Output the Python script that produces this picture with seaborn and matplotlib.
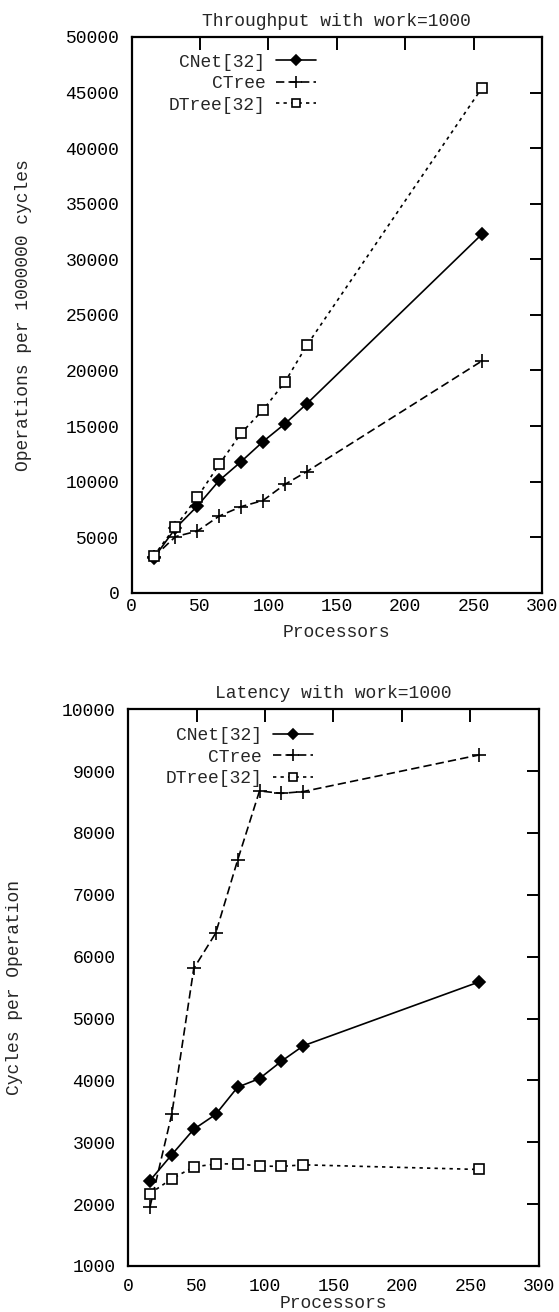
#!/usr/bin/env python3
"""
Throughput and latency of counting networks / trees with work=1000.
"""

import matplotlib
matplotlib.use("Agg")
import matplotlib.pyplot as plt
import seaborn as sns
from matplotlib.lines import Line2D

# processor counts (shared by all series)
procs = [16, 32, 48, 64, 80, 96, 112, 128, 256]

# throughput, operations per 1000000 cycles
thr_cnet = [3100, 5800, 7800, 10100, 11800, 13600, 15200, 17000, 32250]
thr_ctree = [3200, 5050, 5550, 6900, 7750, 8300, 9750, 10900, 20850]
thr_dtree = [3300, 5950, 8600, 11550, 14350, 16450, 18950, 22250, 45400]

# latency, cycles per operation
lat_cnet = [2380, 2800, 3210, 3450, 3890, 4030, 4310, 4560, 5590]
lat_ctree = [1950, 3460, 5810, 6380, 7560, 8680, 8640, 8670, 9260]
lat_dtree = [2170, 2410, 2600, 2650, 2650, 2615, 2610, 2635, 2560]

labels = ["CNet[32]", "CTree", "DTree[32]"]

sns.set_style("white")
plt.rcParams["font.family"] = ["Liberation Mono", "DejaVu Sans Mono"]
plt.rcParams["font.size"] = 13

styles = {
    "CNet[32]": dict(marker="D", markersize=6.5, markerfacecolor="black",
                     dashes=()),
    "CTree": dict(marker="+", markersize=10, markerfacecolor="black",
                  dashes=(5, 2.5)),
    "DTree[32]": dict(marker="s", markersize=7.5, markerfacecolor="white",
                      dashes=(2, 2.5)),
}


def draw_panel(ax, series, title, ylabel, yticks, legend_anchor, ylab_x,
               xpad, xlabelpad, ypad):
    for name, vals in zip(labels, series):
        st = styles[name]
        sns.lineplot(x=procs, y=vals, ax=ax, color="black", linewidth=1.2,
                     marker=st["marker"], markersize=st["markersize"],
                     markerfacecolor=st["markerfacecolor"],
                     markeredgecolor="black", markeredgewidth=1.2)
        line = ax.lines[-1]
        if st["dashes"]:
            line.set_dashes(st["dashes"])

    ax.set_xlim(0, 300)
    ax.set_ylim(yticks[0], yticks[-1])
    ax.set_xticks(range(0, 301, 50))
    ax.set_yticks(yticks)
    ax.set_title(title, pad=8, fontsize=13)
    ax.set_xlabel("Processors", labelpad=xlabelpad)
    ax.set_ylabel(ylabel)
    ax.yaxis.set_label_coords(ylab_x, 0.5)
    ax.tick_params(direction="in", length=9, width=1.4, top=True, right=True,
                   colors="black")
    ax.tick_params(axis="x", pad=xpad)
    ax.tick_params(axis="y", pad=ypad)
    for sp in ax.spines.values():
        sp.set_visible(True)
        sp.set_linewidth(1.6)
        sp.set_color("black")

    handles = []
    for name in labels:
        st = styles[name]
        h = Line2D([], [], color="black", linewidth=1.2, marker=st["marker"],
                   markersize=st["markersize"] * 0.85,
                   markerfacecolor=st["markerfacecolor"],
                   markeredgecolor="black", markeredgewidth=1.2)
        if st["dashes"]:
            h.set_dashes(st["dashes"])
        handles.append(h)
    ax.legend(handles, labels, loc="upper right", bbox_to_anchor=legend_anchor,
              frameon=False, markerfirst=False, handlelength=2.2,
              handletextpad=0.6, labelspacing=0.25, borderpad=0,
              borderaxespad=0)


fig = plt.figure(figsize=(5.59, 13.12), dpi=100)
ax1 = fig.add_axes([0.2356, 0.5482, 0.7340, 0.4236])
ax2 = fig.add_axes([0.2290, 0.0351, 0.7352, 0.4243])

draw_panel(ax1, [thr_cnet, thr_ctree, thr_dtree], "Throughput with work=1000",
           "Operations per 1000000 cycles", list(range(0, 50001, 5000)),
           (0.449, 0.970), -0.243, 4, 6, 9)
draw_panel(ax2, [lat_cnet, lat_ctree, lat_dtree], "Latency with work=1000",
           "Cycles per Operation", list(range(1000, 10001, 1000)),
           (0.449, 0.968), -0.255, 9, 0, 9)

fig.savefig("out.png", dpi=100)
